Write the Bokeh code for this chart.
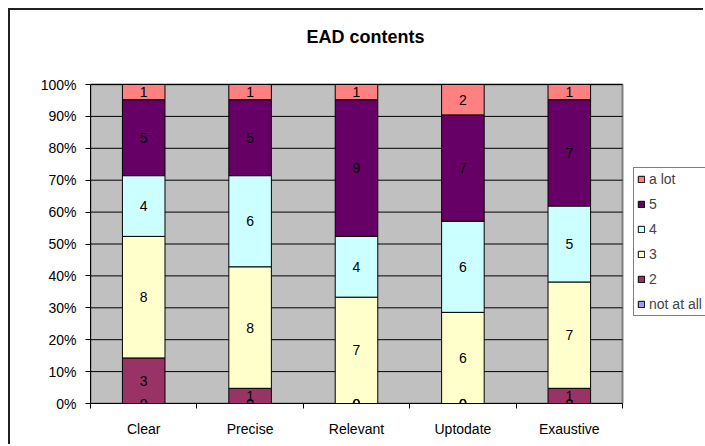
import numpy as np
from bokeh.plotting import figure
from bokeh.models import (ColumnDataSource, Range1d, FixedTicker, NumeralTickFormatter,
                          Legend, LegendItem, Label)
from bokeh.core.properties import value
from bokeh.embed import file_html
from bokeh.resources import INLINE

# ---- data ----
categories = ["Clear", "Precise", "Relevant", "Uptodate", "Exaustive"]
series_names = ["not at all", "2", "3", "4", "5", "a lot"]
not_at_all = [0, 0, 0, 0, 0]
two = [3, 1, 0, 0, 1]
three = [8, 8, 7, 6, 7]
four = [4, 6, 4, 6, 5]
five = [5, 5, 9, 7, 7]
a_lot = [1, 1, 1, 2, 1]
colors = ["#9999FF", "#993366", "#FFFFCC", "#CCFFFF", "#660066", "#FF8080"]
y_ticks = [0.0, 0.1, 0.2, 0.3, 0.4, 0.5, 0.6, 0.7, 0.8, 0.9, 1.0]
title_text = "EAD contents"

FONT = "Liberation Sans"

# ---- layout (pixels) ----
W, H = 695, 436            # canvas (plus 2px border + 8px margin = 705 x 446)
LEFT, BOTTOM = 80, 43      # space for the axes
AREA_W, AREA_H = 532, 319  # size of the grey plot area

series = [not_at_all, two, three, four, five, a_lot]
counts = np.array(series, dtype=float)
totals = counts.sum(axis=0)
fracs = counts / totals
n_cat = len(categories)

x_pos = [i + 0.5 for i in range(n_cat)]
keys = ["s%d" % i for i in range(len(series))]
data = {"x": x_pos}
for k, f in zip(keys, fracs):
    data[k] = list(f)
source = ColumnDataSource(data)

# label positions (segment centers)
cum = np.vstack([np.zeros(n_cat), np.cumsum(fracs, axis=0)])
lx, ly, lt = [], [], []
for s in range(len(series)):
    for c in range(n_cat):
        lx.append(x_pos[c])
        ly.append((cum[s, c] + cum[s + 1, c]) / 2)
        lt.append(str(series[s][c]))
lab_src = ColumnDataSource(dict(x=lx, y=ly, t=lt))

frame_w = W - LEFT
frame_h = H - BOTTOM
x_end = n_cat * frame_w / AREA_W
y_lo, y_hi = y_ticks[0], y_ticks[-1]
y_end = y_hi * frame_h / AREA_H

p = figure(width=W, height=H, output_backend="svg", toolbar_location=None,
           x_range=Range1d(0, x_end), y_range=Range1d(y_lo, y_end),
           min_border_left=LEFT, min_border_right=0, min_border_top=0,
           min_border_bottom=BOTTOM, title_location=None)
p.styles = {"margin-left": "8px", "margin-top": "8px",
            "border-left": "2px solid #202020", "border-top": "2px solid #202020"}

p.background_fill_color = "white"
p.border_fill_color = "white"
p.outline_line_color = None
p.xgrid.visible = False
p.ygrid.visible = False

# grey plot area and gridlines
p.quad(left=[0], right=[n_cat], bottom=[y_lo], top=[y_hi],
       fill_color="#C0C0C0", line_color="#808080", line_width=2)
p.segment(x0=[0] * len(y_ticks), x1=[n_cat] * len(y_ticks), y0=y_ticks, y1=y_ticks,
          line_color="black", line_width=1)

renderers = p.vbar_stack(keys, x="x", width=0.4, color=colors, source=source,
                         line_color="black", line_width=1)

p.text(x="x", y="y", text="t", source=lab_src, text_align="center",
       text_baseline="middle", text_font=value(FONT), text_font_size="14px",
       text_color="black")

# title
p.add_layout(Label(x=275, y=frame_h - 26, x_units="screen", y_units="screen",
                   text=title_text, text_align="center", text_baseline="middle",
                   text_font=FONT, text_font_size="18px", text_font_style="bold",
                   text_color="black"))

# axes
xa = p.below[0]
ya = p.left[0]

xa.bounds = (0, n_cat)
xa.ticker = FixedTicker(ticks=x_pos, minor_ticks=list(range(n_cat + 1)))
xa.major_label_overrides = {x: c for x, c in zip(x_pos, categories)}
xa.major_tick_line_color = None
xa.major_tick_out = 5
xa.major_tick_in = 0
xa.minor_tick_line_color = "black"
xa.minor_tick_out = 5
xa.minor_tick_in = 0
xa.major_label_standoff = 12
xa.major_label_text_font = FONT
xa.major_label_text_font_size = "14px"
xa.major_label_text_color = "black"
xa.axis_line_color = "black"

ya.bounds = (y_lo, y_hi)
ya.ticker = FixedTicker(ticks=y_ticks, minor_ticks=[])
ya.formatter = NumeralTickFormatter(format="0%")
ya.major_tick_out = 5
ya.major_tick_in = 0
ya.major_tick_line_color = "black"
ya.major_label_standoff = 9
ya.major_label_text_font = FONT
ya.major_label_text_font_size = "14px"
ya.major_label_text_color = "black"
ya.axis_line_color = "black"

items = [LegendItem(label=series_names[i], renderers=[renderers[i]])
         for i in reversed(range(len(series)))]
legend = Legend(items=items, location=(543, 87))
legend.label_text_font = FONT
legend.label_text_font_size = "14px"
legend.label_height = 15
legend.glyph_width = 8
legend.glyph_height = 8
legend.label_standoff = 4
legend.spacing = 9
legend.padding = 3
legend.margin = 0
legend.border_line_color = "black"
legend.border_line_width = 1
legend.background_fill_color = "white"
legend.background_fill_alpha = 1
p.add_layout(legend)

open("out.html", "w").write(file_html(p, INLINE))
